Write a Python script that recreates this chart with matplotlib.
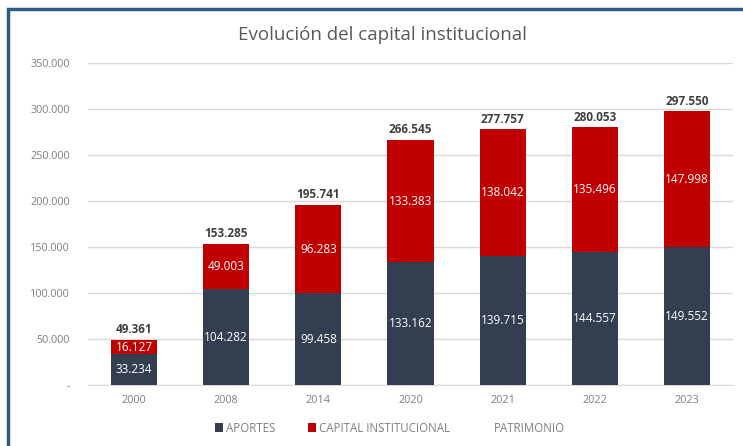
import matplotlib
matplotlib.use("Agg")
import matplotlib.pyplot as plt
from matplotlib.patches import Patch, Rectangle
import numpy as np

years = ["2000", "2008", "2014", "2020", "2021", "2022", "2023"]
aportes = [33234, 104282, 99458, 133162, 139715, 144557, 149552]
capital = [16127, 49003, 96283, 133383, 138042, 135496, 147998]
patrimonio = [49361, 153285, 195741, 266545, 277757, 280053, 297550]
yticks = [0, 50000, 100000, 150000, 200000, 250000, 300000, 350000]

def fmt(v):
    return f"{v:,}".replace(",", ".")

NAVY = "#333F50"
RED = "#C00000"
GRID = "#D9D9D9"
TXT = "#7F7F7F"

plt.rcParams['font.family'] = ['Open Sans', 'DejaVu Sans']

fig = plt.figure(figsize=(7.43, 4.46), dpi=100)
fig.patch.set_facecolor("white")

# frame border (top and left)
fig.add_artist(Rectangle((8/743, -0.1), 1.2, (446-9)/446 + 0.1, transform=fig.transFigure,
                         fill=False, edgecolor="#2E5C8A", linewidth=2.5))

ax = fig.add_axes([88/743, (446-385)/446, (733-88)/743, (385-63)/446])
x = np.arange(len(years))
w = 0.5
ax.bar(x, aportes, width=w, color=NAVY, zorder=3)
ax.bar(x, capital, width=w, bottom=aportes, color=RED, zorder=3)

for i in range(len(years)):
    ax.text(x[i], aportes[i] / 2, fmt(aportes[i]), ha="center", va="center",
            color="white", fontsize=8.5, zorder=4)
    ax.text(x[i], aportes[i] + capital[i] / 2, fmt(capital[i]), ha="center", va="center",
            color="white", fontsize=8.5, zorder=4)
    ax.text(x[i], patrimonio[i] + 4000, fmt(patrimonio[i]), ha="center", va="bottom",
            color="#404040", fontsize=8.5, fontweight="bold", zorder=4)

ax.set_xlim(-0.5, len(years) - 0.5)
ax.set_ylim(0, 350000)
ax.set_yticks(yticks)
ax.set_yticklabels(["-" if v == 0 else fmt(v) for v in yticks], color=TXT, fontsize=7.8)
ax.set_xticks(x)
ax.set_xticklabels(years, color=TXT, fontsize=7.8)
ax.tick_params(length=0, pad=7)
ax.tick_params(axis="y", pad=13)
ax.grid(axis="y", color=GRID, linewidth=1, zorder=0)
for s in ["top", "right", "left"]:
    ax.spines[s].set_visible(False)
ax.spines["bottom"].set_color(GRID)

fig.text(382/743, 1 - 35/446, "Evolución del capital institucional", ha="center", va="center",
         fontsize=13.5, color="#595959")

handles = [Patch(facecolor=NAVY, label="APORTES"),
           Patch(facecolor=RED, label="CAPITAL INSTITUCIONAL"),
           Patch(facecolor="none", edgecolor="none", label="PATRIMONIO")]
leg = fig.legend(handles=handles, loc="center", bbox_to_anchor=(390/743, 1 - 428/446),
                 ncol=3, frameon=False, fontsize=8.3, handlelength=0.7, handleheight=0.7,
                 handletextpad=0.3, columnspacing=2.8)
for t in leg.get_texts():
    t.set_color(TXT)

fig.savefig("out.png", dpi=100)
